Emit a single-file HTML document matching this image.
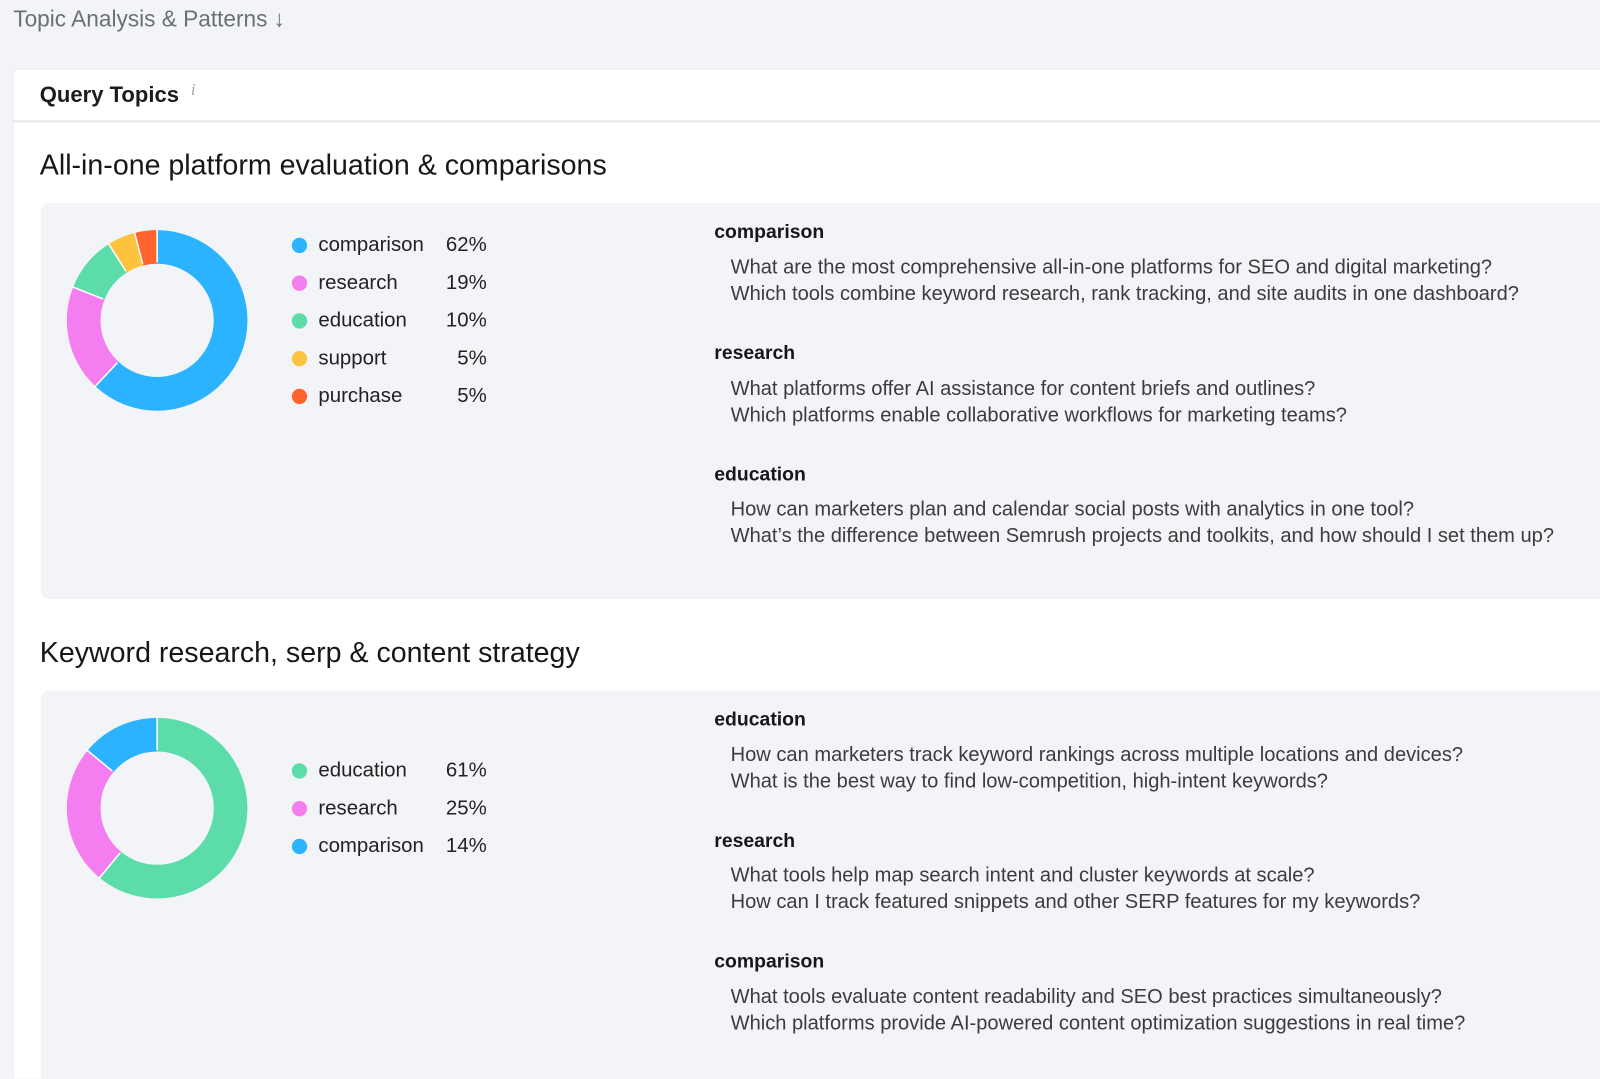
<!DOCTYPE html>
<html style="overflow:hidden;width:1600px;height:1079px"><head><meta charset="utf-8"><style>
*{margin:0;padding:0;box-sizing:border-box}
body{width:1600px;height:1079px;background:#f3f4f8;font-family:"Liberation Sans",sans-serif;position:relative;overflow:hidden;color:#1c1c1f}
#w{position:absolute;left:0;top:0;width:1568px;height:1057px;overflow:hidden;transform:scale(1.0204);transform-origin:0 0}
.a{position:absolute;white-space:nowrap}
.card{position:absolute;left:12px;top:67px;width:1556px;height:990px;background:#fff;border:1px solid #e6e7ec;border-right:none;border-bottom:none;border-radius:6px 0 0 0}
.panel{position:absolute;left:40px;width:1528px;background:#f3f4f8;border-radius:8px 0 0 8px}
.t{font-size:28px;color:#17171a;line-height:30px}
.lg{font-size:20px;color:#222;line-height:22px}
.dot{position:absolute;width:15px;height:15px;border-radius:50%}
.pc{position:absolute;width:60px;text-align:right;left:417px;font-size:20px;color:#222;line-height:22px}
.cat{font-size:19px;font-weight:bold;color:#17171a;line-height:22px}
.it{font-size:19.7px;color:#3b3c40;line-height:22px}
</style></head><body><div id="w">
<div class="a" style="left:13px;top:7px;font-size:22.2px;color:#6c6f78;line-height:24px">Topic Analysis &amp; Patterns ↓</div>
<div class="card"></div>
<div class="a" style="left:12px;top:118px;width:1556px;height:2px;background:#e6e7ec"></div>
<div class="a" style="left:39px;top:81px;font-size:21.6px;font-weight:bold;line-height:24px">Query Topics</div>
<div class="a" style="left:187px;top:80px;font-size:16px;color:#a0a3ad;font-style:italic;font-family:'Liberation Serif',serif">i</div>

<div class="a t" style="left:39px;top:147px">All-in-one platform evaluation &amp; comparisons</div>
<div class="panel" style="top:199px;height:388px"></div>
<div class="a t" style="left:39px;top:625px">Keyword research, serp &amp; content strategy</div>
<div class="panel" style="top:677px;height:380px;border-radius:8px 0 0 0"></div>

<svg class="a" style="left:0;top:0" width="500" height="1000">
<g transform="rotate(-90 154 314)" fill="none" stroke-width="33">
<circle cx="154" cy="314" r="72" stroke="#2bb3ff" stroke-dasharray="280.5 1000"/>
<circle cx="154" cy="314" r="72" stroke="#f47ef0" stroke-dasharray="86 1000" stroke-dashoffset="-280.5"/>
<circle cx="154" cy="314" r="72" stroke="#5bdca8" stroke-dasharray="45.2 1000" stroke-dashoffset="-366.5"/>
<circle cx="154" cy="314" r="72" stroke="#fdc23e" stroke-dasharray="22.6 1000" stroke-dashoffset="-411.7"/>
<circle cx="154" cy="314" r="72" stroke="#ff642d" stroke-dasharray="22.6 1000" stroke-dashoffset="-434.3"/>
</g>
<g stroke="#fff" stroke-width="1.5">
<line x1="154" y1="257" x2="154" y2="224"/>
<line x1="154" y1="257" x2="154" y2="224" transform="rotate(223.2 154 314)"/>
<line x1="154" y1="257" x2="154" y2="224" transform="rotate(291.6 154 314)"/>
<line x1="154" y1="257" x2="154" y2="224" transform="rotate(327.6 154 314)"/>
<line x1="154" y1="257" x2="154" y2="224" transform="rotate(345.6 154 314)"/>
</g>
<g transform="rotate(-90 154 792)" fill="none" stroke-width="33">
<circle cx="154" cy="792" r="72" stroke="#5bdca8" stroke-dasharray="276 1000"/>
<circle cx="154" cy="792" r="72" stroke="#f47ef0" stroke-dasharray="113.1 1000" stroke-dashoffset="-276"/>
<circle cx="154" cy="792" r="72" stroke="#2bb3ff" stroke-dasharray="63.3 1000" stroke-dashoffset="-389.1"/>
</g>
<g stroke="#fff" stroke-width="1.5">
<line x1="154" y1="735" x2="154" y2="702"/>
<line x1="154" y1="735" x2="154" y2="702" transform="rotate(219.6 154 792)"/>
<line x1="154" y1="735" x2="154" y2="702" transform="rotate(309.6 154 792)"/>
</g>
</svg>

<div class="dot" style="left:286px;top:233px;background:#2bb3ff"></div><div class="a lg" style="left:312px;top:229px">comparison</div><div class="pc" style="top:229px">62%</div>
<div class="dot" style="left:286px;top:270px;background:#f47ef0"></div><div class="a lg" style="left:312px;top:266px">research</div><div class="pc" style="top:266px">19%</div>
<div class="dot" style="left:286px;top:307px;background:#5bdca8"></div><div class="a lg" style="left:312px;top:303px">education</div><div class="pc" style="top:303px">10%</div>
<div class="dot" style="left:286px;top:344px;background:#fdc23e"></div><div class="a lg" style="left:312px;top:340px">support</div><div class="pc" style="top:340px">5%</div>
<div class="dot" style="left:286px;top:381px;background:#ff642d"></div><div class="a lg" style="left:312px;top:377px">purchase</div><div class="pc" style="top:377px">5%</div>

<div class="dot" style="left:286px;top:748px;background:#5bdca8"></div><div class="a lg" style="left:312px;top:744px">education</div><div class="pc" style="top:744px">61%</div>
<div class="dot" style="left:286px;top:785px;background:#f47ef0"></div><div class="a lg" style="left:312px;top:781px">research</div><div class="pc" style="top:781px">25%</div>
<div class="dot" style="left:286px;top:822px;background:#2bb3ff"></div><div class="a lg" style="left:312px;top:818px">comparison</div><div class="pc" style="top:818px">14%</div>

<div class="a cat" style="left:700px;top:217px">comparison</div>
<div class="a it" style="left:716px;top:251px">What are the most comprehensive all-in-one platforms for SEO and digital marketing?</div>
<div class="a it" style="left:716px;top:277px">Which tools combine keyword research, rank tracking, and site audits in one dashboard?</div>
<div class="a cat" style="left:700px;top:336px">research</div>
<div class="a it" style="left:716px;top:370px">What platforms offer AI assistance for content briefs and outlines?</div>
<div class="a it" style="left:716px;top:396px">Which platforms enable collaborative workflows for marketing teams?</div>
<div class="a cat" style="left:700px;top:455px">education</div>
<div class="a it" style="left:716px;top:488px">How can marketers plan and calendar social posts with analytics in one tool?</div>
<div class="a it" style="left:716px;top:514px">What’s the difference between Semrush projects and toolkits, and how should I set them up?</div>

<div class="a cat" style="left:700px;top:695px">education</div>
<div class="a it" style="left:716px;top:729px">How can marketers track keyword rankings across multiple locations and devices?</div>
<div class="a it" style="left:716px;top:755px">What is the best way to find low-competition, high-intent keywords?</div>
<div class="a cat" style="left:700px;top:814px">research</div>
<div class="a it" style="left:716px;top:847px">What tools help map search intent and cluster keywords at scale?</div>
<div class="a it" style="left:716px;top:873px">How can I track featured snippets and other SERP features for my keywords?</div>
<div class="a cat" style="left:700px;top:932px">comparison</div>
<div class="a it" style="left:716px;top:966px">What tools evaluate content readability and SEO best practices simultaneously?</div>
<div class="a it" style="left:716px;top:992px">Which platforms provide AI-powered content optimization suggestions in real time?</div>
</div></body></html>
